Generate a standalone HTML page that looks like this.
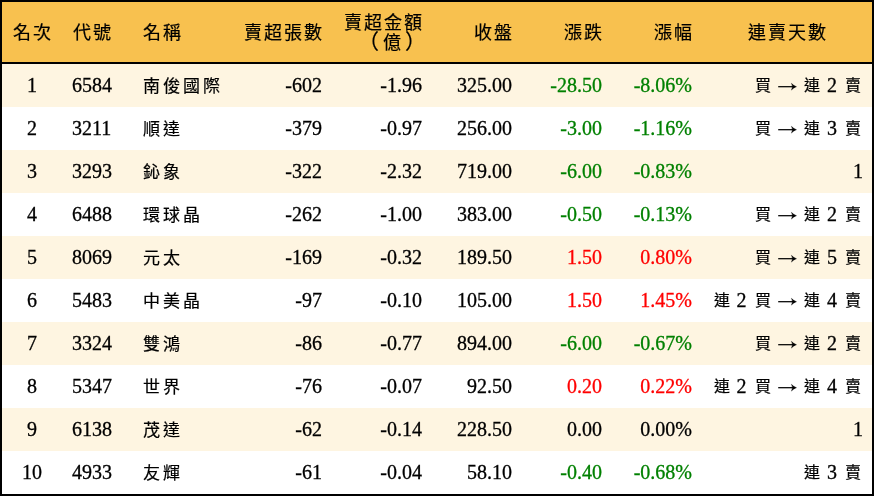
<!DOCTYPE html>
<html lang="zh-TW">
<head>
<meta charset="utf-8">
<style>
html,body{margin:0;padding:0;background:#fff;}
body{width:874px;height:496px;overflow:hidden;font-family:"Liberation Serif",serif;position:relative;}
.t{position:absolute;left:0;top:0;width:870px;height:492px;border:2px solid #000;background:#fff;overflow:hidden;}
.hd{position:absolute;left:0;top:0;width:870px;height:60px;background:#F8C14F;border-bottom:2px solid #000;}
.r{position:absolute;left:0;width:870px;height:43px;}
.r.o{background:#FEF5E1;}
.c{position:absolute;white-space:nowrap;color:#000;}
.t{will-change:transform;}
.h{font-size:18px;line-height:20px;letter-spacing:2px;-webkit-text-stroke:0.2px #000;}
.hp{font-size:18px;line-height:20px;width:20px;text-align:center;-webkit-text-stroke:0.2px #000;}
.num{font-size:20px;line-height:43px;top:0;-webkit-text-stroke:0.3px currentColor;}
.cj{font-size:17px;line-height:43px;top:1px;letter-spacing:3px;-webkit-text-stroke:0.2px #000;}
.dk,.dd{position:absolute;top:0;width:20px;text-align:center;line-height:43px;}
.dk{font-size:16px;-webkit-text-stroke:0.2px #000;}
.dd{font-size:20px;-webkit-text-stroke:0.3px #000;}
.ar{position:absolute;top:17px;width:20px;height:12px;line-height:0;}
.g{color:#008000;}
.red{color:#FF0000;}
</style>
</head>
<body>
<div class="t">
<div class="hd">
 <div class="c h" style="left:11px;top:21px">名次</div>
 <div class="c h" style="left:71px;top:21px">代號</div>
 <div class="c h" style="left:141px;top:21px">名稱</div>
 <div class="c h" style="right:548px;top:21px">賣超張數</div>
 <div class="c h" style="right:448px;top:11px">賣超金額</div>
 <div class="c hp" style="left:356px;top:30px;font-size:21px">（</div>
 <div class="c hp" style="left:380px;top:31px">億</div>
 <div class="c hp" style="left:403px;top:30px;font-size:21px">）</div>
 <div class="c h" style="right:358px;top:21px">收盤</div>
 <div class="c h" style="right:268px;top:21px">漲跌</div>
 <div class="c h" style="right:178px;top:21px">漲幅</div>
 <div class="c h" style="left:746px;top:21px">連賣天數</div>
</div>
<div class="r o" style="top:62px">
 <div class="c num" style="left:0;width:60px;text-align:center">1</div>
 <div class="c num" style="left:70px">6584</div>
 <div class="c cj" style="left:141px">南俊國際</div>
 <div class="c num" style="right:550px">-602</div>
 <div class="c num" style="right:450px">-1.96</div>
 <div class="c num" style="right:360px">325.00</div>
 <div class="c num g" style="right:270px">-28.50</div>
 <div class="c num g" style="right:180px">-8.06%</div>
 <span class="dk" style="left:750.5px">買</span>
 <span class="ar" style="left:776px"><svg width="20" height="12" viewBox="0 0 20 12"><path d="M0.2 5.7H17" stroke="#000" stroke-width="1.25"/><path d="M13.4 2.3Q15.9 5.0 18.5 5.7Q15.9 6.4 13.4 9.1Q15.4 5.7 13.4 2.3Z" fill="#000" stroke="#000" stroke-width="0.35"/></svg></span>
 <span class="dk" style="left:800px">連</span>
 <span class="dd" style="left:820px">2</span>
 <span class="dk" style="left:840.5px">賣</span>
</div>
<div class="r" style="top:105px">
 <div class="c num" style="left:0;width:60px;text-align:center">2</div>
 <div class="c num" style="left:70px">3211</div>
 <div class="c cj" style="left:141px">順達</div>
 <div class="c num" style="right:550px">-379</div>
 <div class="c num" style="right:450px">-0.97</div>
 <div class="c num" style="right:360px">256.00</div>
 <div class="c num g" style="right:270px">-3.00</div>
 <div class="c num g" style="right:180px">-1.16%</div>
 <span class="dk" style="left:750.5px">買</span>
 <span class="ar" style="left:776px"><svg width="20" height="12" viewBox="0 0 20 12"><path d="M0.2 5.7H17" stroke="#000" stroke-width="1.25"/><path d="M13.4 2.3Q15.9 5.0 18.5 5.7Q15.9 6.4 13.4 9.1Q15.4 5.7 13.4 2.3Z" fill="#000" stroke="#000" stroke-width="0.35"/></svg></span>
 <span class="dk" style="left:800px">連</span>
 <span class="dd" style="left:820px">3</span>
 <span class="dk" style="left:840.5px">賣</span>
</div>
<div class="r o" style="top:148px">
 <div class="c num" style="left:0;width:60px;text-align:center">3</div>
 <div class="c num" style="left:70px">3293</div>
 <div class="c cj" style="left:141px">鈊象</div>
 <div class="c num" style="right:550px">-322</div>
 <div class="c num" style="right:450px">-2.32</div>
 <div class="c num" style="right:360px">719.00</div>
 <div class="c num g" style="right:270px">-6.00</div>
 <div class="c num g" style="right:180px">-0.83%</div>
 <span class="dd" style="left:841px;width:20px;text-align:right">1</span>
</div>
<div class="r" style="top:191px">
 <div class="c num" style="left:0;width:60px;text-align:center">4</div>
 <div class="c num" style="left:70px">6488</div>
 <div class="c cj" style="left:141px">環球晶</div>
 <div class="c num" style="right:550px">-262</div>
 <div class="c num" style="right:450px">-1.00</div>
 <div class="c num" style="right:360px">383.00</div>
 <div class="c num g" style="right:270px">-0.50</div>
 <div class="c num g" style="right:180px">-0.13%</div>
 <span class="dk" style="left:750.5px">買</span>
 <span class="ar" style="left:776px"><svg width="20" height="12" viewBox="0 0 20 12"><path d="M0.2 5.7H17" stroke="#000" stroke-width="1.25"/><path d="M13.4 2.3Q15.9 5.0 18.5 5.7Q15.9 6.4 13.4 9.1Q15.4 5.7 13.4 2.3Z" fill="#000" stroke="#000" stroke-width="0.35"/></svg></span>
 <span class="dk" style="left:800px">連</span>
 <span class="dd" style="left:820px">2</span>
 <span class="dk" style="left:840.5px">賣</span>
</div>
<div class="r o" style="top:234px">
 <div class="c num" style="left:0;width:60px;text-align:center">5</div>
 <div class="c num" style="left:70px">8069</div>
 <div class="c cj" style="left:141px">元太</div>
 <div class="c num" style="right:550px">-169</div>
 <div class="c num" style="right:450px">-0.32</div>
 <div class="c num" style="right:360px">189.50</div>
 <div class="c num red" style="right:270px">1.50</div>
 <div class="c num red" style="right:180px">0.80%</div>
 <span class="dk" style="left:750.5px">買</span>
 <span class="ar" style="left:776px"><svg width="20" height="12" viewBox="0 0 20 12"><path d="M0.2 5.7H17" stroke="#000" stroke-width="1.25"/><path d="M13.4 2.3Q15.9 5.0 18.5 5.7Q15.9 6.4 13.4 9.1Q15.4 5.7 13.4 2.3Z" fill="#000" stroke="#000" stroke-width="0.35"/></svg></span>
 <span class="dk" style="left:800px">連</span>
 <span class="dd" style="left:820px">5</span>
 <span class="dk" style="left:840.5px">賣</span>
</div>
<div class="r" style="top:277px">
 <div class="c num" style="left:0;width:60px;text-align:center">6</div>
 <div class="c num" style="left:70px">5483</div>
 <div class="c cj" style="left:141px">中美晶</div>
 <div class="c num" style="right:550px">-97</div>
 <div class="c num" style="right:450px">-0.10</div>
 <div class="c num" style="right:360px">105.00</div>
 <div class="c num red" style="right:270px">1.50</div>
 <div class="c num red" style="right:180px">1.45%</div>
 <span class="dk" style="left:710px">連</span>
 <span class="dd" style="left:729.5px">2</span>
 <span class="dk" style="left:750.5px">買</span>
 <span class="ar" style="left:776px"><svg width="20" height="12" viewBox="0 0 20 12"><path d="M0.2 5.7H17" stroke="#000" stroke-width="1.25"/><path d="M13.4 2.3Q15.9 5.0 18.5 5.7Q15.9 6.4 13.4 9.1Q15.4 5.7 13.4 2.3Z" fill="#000" stroke="#000" stroke-width="0.35"/></svg></span>
 <span class="dk" style="left:800px">連</span>
 <span class="dd" style="left:820px">4</span>
 <span class="dk" style="left:840.5px">賣</span>
</div>
<div class="r o" style="top:320px">
 <div class="c num" style="left:0;width:60px;text-align:center">7</div>
 <div class="c num" style="left:70px">3324</div>
 <div class="c cj" style="left:141px">雙鴻</div>
 <div class="c num" style="right:550px">-86</div>
 <div class="c num" style="right:450px">-0.77</div>
 <div class="c num" style="right:360px">894.00</div>
 <div class="c num g" style="right:270px">-6.00</div>
 <div class="c num g" style="right:180px">-0.67%</div>
 <span class="dk" style="left:750.5px">買</span>
 <span class="ar" style="left:776px"><svg width="20" height="12" viewBox="0 0 20 12"><path d="M0.2 5.7H17" stroke="#000" stroke-width="1.25"/><path d="M13.4 2.3Q15.9 5.0 18.5 5.7Q15.9 6.4 13.4 9.1Q15.4 5.7 13.4 2.3Z" fill="#000" stroke="#000" stroke-width="0.35"/></svg></span>
 <span class="dk" style="left:800px">連</span>
 <span class="dd" style="left:820px">2</span>
 <span class="dk" style="left:840.5px">賣</span>
</div>
<div class="r" style="top:363px">
 <div class="c num" style="left:0;width:60px;text-align:center">8</div>
 <div class="c num" style="left:70px">5347</div>
 <div class="c cj" style="left:141px">世界</div>
 <div class="c num" style="right:550px">-76</div>
 <div class="c num" style="right:450px">-0.07</div>
 <div class="c num" style="right:360px">92.50</div>
 <div class="c num red" style="right:270px">0.20</div>
 <div class="c num red" style="right:180px">0.22%</div>
 <span class="dk" style="left:710px">連</span>
 <span class="dd" style="left:729.5px">2</span>
 <span class="dk" style="left:750.5px">買</span>
 <span class="ar" style="left:776px"><svg width="20" height="12" viewBox="0 0 20 12"><path d="M0.2 5.7H17" stroke="#000" stroke-width="1.25"/><path d="M13.4 2.3Q15.9 5.0 18.5 5.7Q15.9 6.4 13.4 9.1Q15.4 5.7 13.4 2.3Z" fill="#000" stroke="#000" stroke-width="0.35"/></svg></span>
 <span class="dk" style="left:800px">連</span>
 <span class="dd" style="left:820px">4</span>
 <span class="dk" style="left:840.5px">賣</span>
</div>
<div class="r o" style="top:406px">
 <div class="c num" style="left:0;width:60px;text-align:center">9</div>
 <div class="c num" style="left:70px">6138</div>
 <div class="c cj" style="left:141px">茂達</div>
 <div class="c num" style="right:550px">-62</div>
 <div class="c num" style="right:450px">-0.14</div>
 <div class="c num" style="right:360px">228.50</div>
 <div class="c num k" style="right:270px">0.00</div>
 <div class="c num k" style="right:180px">0.00%</div>
 <span class="dd" style="left:841px;width:20px;text-align:right">1</span>
</div>
<div class="r" style="top:449px">
 <div class="c num" style="left:0;width:60px;text-align:center">10</div>
 <div class="c num" style="left:70px">4933</div>
 <div class="c cj" style="left:141px">友輝</div>
 <div class="c num" style="right:550px">-61</div>
 <div class="c num" style="right:450px">-0.04</div>
 <div class="c num" style="right:360px">58.10</div>
 <div class="c num g" style="right:270px">-0.40</div>
 <div class="c num g" style="right:180px">-0.68%</div>
 <span class="dk" style="left:800px">連</span>
 <span class="dd" style="left:820px">3</span>
 <span class="dk" style="left:840.5px">賣</span>
</div>
</div>
</body>
</html>
